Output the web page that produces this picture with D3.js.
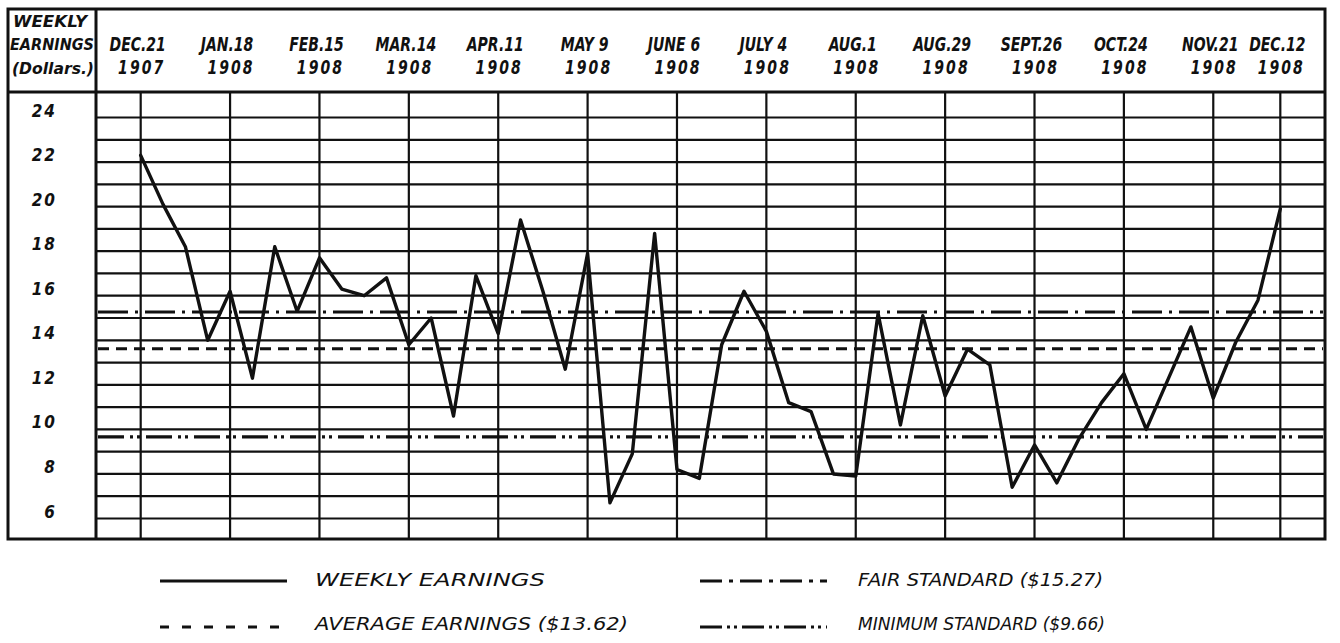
<!DOCTYPE html>
<html>
<head>
<meta charset="utf-8">
<script src="https://cdn.jsdelivr.net/npm/d3@7"></script>
<style>
  html, body { margin: 0; padding: 0; background: #fff; }
  svg { display: block; }
  .hand { font-family: "DejaVu Sans Condensed", "DejaVu Sans", sans-serif;
          font-style: italic; font-weight: bold; fill: #111; }
  .leg  { font-family: "DejaVu Sans Condensed", "DejaVu Sans", sans-serif;
          font-style: italic; font-weight: normal; fill: #111; }
</style>
</head>
<body>
<svg id="chart" width="1340" height="643"></svg>
<script>
/* ─────────────────── Datos ──────────────────── */
const FIRST_WEEK = '1907-12-21';

// weekly earnings, dollars, one per week from Dec 21 1907
const EARNINGS = [
  22.3, 20.1, 18.2, 14.0, 16.2, 12.3, 18.2, 15.3, 17.7, 16.3,
  16.0, 16.8, 13.8, 15.0, 10.6, 16.9, 14.3, 19.4, 16.2, 12.7,
  17.9,  6.7,  8.9, 18.8,  8.2,  7.8, 13.8, 16.2, 14.4, 11.2,
  10.8,  8.0,  7.9, 15.2, 10.2, 15.1, 11.5, 13.6, 12.9,  7.4,
   9.3,  7.6,  9.6, 11.2, 12.5, 10.0, 12.3, 14.6, 11.4, 13.9,
  15.8, 19.9
];

const TICK_DATES  = ['1907-12-21','1908-01-18','1908-02-15','1908-03-14','1908-04-11',
                     '1908-05-09','1908-06-06','1908-07-04','1908-08-01','1908-08-29',
                     '1908-09-26','1908-10-24','1908-11-21','1908-12-12'];
const TICK_MONTHS = ['DEC.21','JAN.18','FEB.15','MAR.14','APR.11','MAY 9','JUNE 6',
                     'JULY 4','AUG.1','AUG.29','SEPT.26','OCT.24','NOV.21','DEC.12'];
const TICK_YEARS  = ['1907','1908','1908','1908','1908','1908','1908',
                     '1908','1908','1908','1908','1908','1908','1908'];

const Y_LABELS = [24, 22, 20, 18, 16, 14, 12, 10, 8, 6];
const Y_GRID   = d3.range(6, 25);     // one rule per dollar

const AVERAGE = 13.62, FAIR = 15.27, MINIMUM = 9.66;

const LEGEND = [
  { label: 'WEEKLY  EARNINGS',            key: 'weekly'  },
  { label: 'AVERAGE  EARNINGS ($13.62)',  key: 'average' },
  { label: 'FAIR  STANDARD  ($15.27)',    key: 'fair'    },
  { label: 'MINIMUM  STANDARD ($9.66)',   key: 'minimum' }
];

/* ─────────────────── Estilos de línea ──────────────────── */
const DASH = {
  weekly : null,
  average: '11,7',
  fair   : '30,7,3,7',
  minimum: '26,6,3,4,3,6'
};
const DASH_LEG = {
  weekly : null,
  average: '9,13',
  fair   : '22,7,4,7',
  minimum: '22,5,3,4,3,5'
};

/* ─────────────────── Layout ──────────────────── */
const svg = d3.select('#chart');
const L = 8, R = 1325, T = 9, B = 539;   // marco exterior
const COL = 96, HEAD = 92;                // columna izq. / fila cabecera
const INK = '#111';
const SQUEEZE = 0.82;                     // letra estrecha, rotulada a mano

const parse = d3.utcParse('%Y-%m-%d');
const start = parse(FIRST_WEEK);
const x = d3.scaleUtc()
  .domain([d3.utcDay.offset(start, -14), d3.utcDay.offset(start, 53 * 7)])
  .range([COL, R]);
const y = d3.scaleLinear().domain([6, 24]).range([518.5, 117.5]);

const pts = EARNINGS.map((v, i) => ({ date: d3.utcDay.offset(start, 7 * i), v }));

/* ── rejilla horizontal ── */
svg.append('g')
  .selectAll('line')
  .data(Y_GRID)
  .join('line')
    .attr('x1', COL).attr('x2', R)
    .attr('y1', d => y(d)).attr('y2', d => y(d))
    .attr('stroke', INK).attr('stroke-width', 2.2);

/* ── rejilla vertical ── */
svg.append('g')
  .selectAll('line')
  .data(TICK_DATES)
  .join('line')
    .attr('x1', d => x(parse(d))).attr('x2', d => x(parse(d)))
    .attr('y1', HEAD).attr('y2', B)
    .attr('stroke', INK).attr('stroke-width', 2.2);

/* ── marco ── */
const frame = svg.append('g').attr('stroke', INK).attr('fill', 'none');
frame.append('rect')
  .attr('x', L).attr('y', T).attr('width', R - L).attr('height', B - T)
  .attr('stroke-width', 3);
frame.append('line').attr('x1', L).attr('x2', R).attr('y1', HEAD).attr('y2', HEAD)
  .attr('stroke-width', 3);
frame.append('line').attr('x1', COL).attr('x2', COL).attr('y1', T).attr('y2', B)
  .attr('stroke-width', 3);

/* ── líneas de referencia ── */
const refs = [
  { key: 'fair',    v: FAIR    },
  { key: 'average', v: AVERAGE },
  { key: 'minimum', v: MINIMUM }
];
svg.append('g')
  .selectAll('line')
  .data(refs)
  .join('line')
    .attr('x1', COL + 2).attr('x2', R - 2)
    .attr('y1', d => y(d.v)).attr('y2', d => y(d.v))
    .attr('stroke', INK).attr('stroke-width', 3.2)
    .attr('stroke-dasharray', d => DASH[d.key]);

/* ── ganancias semanales ── */
svg.append('path')
  .datum(pts)
  .attr('fill', 'none')
  .attr('stroke', INK)
  .attr('stroke-width', 3.4)
  .attr('stroke-linejoin', 'round')
  .attr('stroke-linecap', 'round')
  .attr('d', d3.line().x(d => x(d.date)).y(d => y(d.v)));

/* ── cabecera: fechas ── */
const head = svg.append('g').attr('class', 'hand').attr('text-anchor', 'middle');
head.selectAll('text.m')
  .data(TICK_DATES)
  .join('text')
    .attr('class', 'm')
    .attr('transform', d => `translate(${x(parse(d)) - 3},51) scale(${SQUEEZE},1)`)
    .attr('font-size', 19)
    .text((d, i) => TICK_MONTHS[i]);
head.selectAll('text.yr')
  .data(TICK_DATES)
  .join('text')
    .attr('class', 'yr')
    .attr('transform', d => `translate(${x(parse(d)) + 1},74) scale(${SQUEEZE},1)`)
    .attr('font-size', 19)
    .attr('letter-spacing', 2.5)
    .text((d, i) => TICK_YEARS[i]);

/* ── cabecera: columna izquierda ── */
const corner = svg.append('g').attr('class', 'hand').attr('font-size', 15);
[['WEEKLY', 13, 27, 74], ['EARNINGS', 10, 50, 84], ['(Dollars.)', 12, 74, 82]]
  .forEach(([t, tx, ty, w]) =>
    corner.append('text')
      .attr('x', tx).attr('y', ty)
      .attr('textLength', w).attr('lengthAdjust', 'spacingAndGlyphs')
      .text(t));

/* ── eje y ── */
svg.append('g')
  .attr('class', 'hand')
  .attr('text-anchor', 'end')
  .selectAll('text')
  .data(Y_LABELS)
  .join('text')
    .attr('x', 57)
    .attr('y', d => y(d) - 1)
    .attr('font-size', 17)
    .attr('letter-spacing', 2)
    .text(d => d);

/* ── leyenda ── */
const legPos = [
  { sx: 160, sy: 581, tx: 315, ty: 586, w: 230 },
  { sx: 160, sy: 627, tx: 315, ty: 630, w: 313 },
  { sx: 700, sy: 581, tx: 858, ty: 586, w: 245 },
  { sx: 700, sy: 627, tx: 858, ty: 630, w: 247 }
];
const leg = svg.append('g')
  .selectAll('g')
  .data(LEGEND)
  .join('g');
leg.append('line')
  .attr('x1', (d, i) => legPos[i].sx).attr('x2', (d, i) => legPos[i].sx + 127)
  .attr('y1', (d, i) => legPos[i].sy).attr('y2', (d, i) => legPos[i].sy)
  .attr('stroke', INK).attr('stroke-width', 3.2)
  .attr('stroke-dasharray', d => DASH_LEG[d.key]);
leg.append('text')
  .attr('class', 'leg')
  .attr('x', (d, i) => legPos[i].tx)
  .attr('y', (d, i) => legPos[i].ty)
  .attr('font-size', 18)
  .attr('textLength', (d, i) => legPos[i].w)
  .attr('lengthAdjust', 'spacingAndGlyphs')
  .text(d => d.label);
</script>
</body>
</html>
